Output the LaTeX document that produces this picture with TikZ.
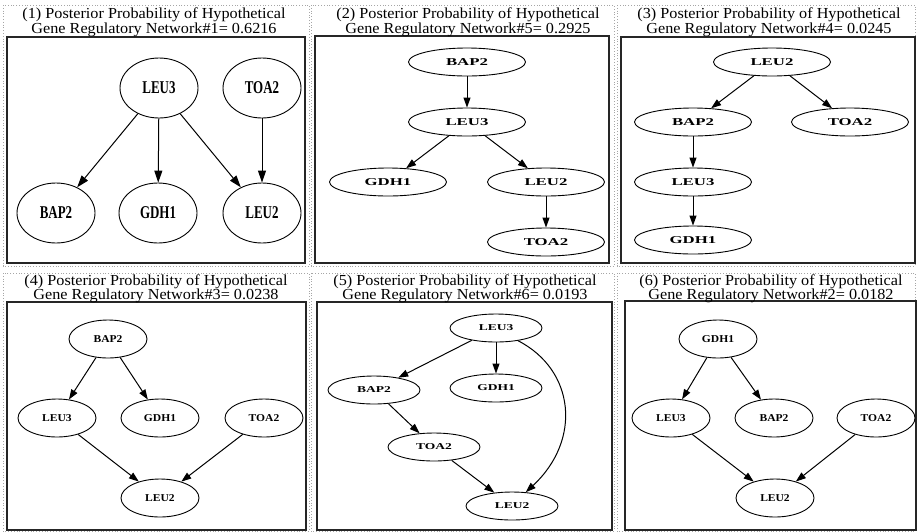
\documentclass[tikz,border=0pt]{standalone}
\usepackage{fontspec}
\setmainfont{Liberation Serif}
\newfontfamily\ttlfont{Liberation Serif}[FakeStretch=1.06]
\newfontfamily\condfont{Liberation Serif}[FakeStretch=0.72]
\newfontfamily\widefont{Liberation Serif}[FakeStretch=1.6]
\newfontfamily\midfont{Liberation Serif}[FakeStretch=1.1]
\newfontfamily\fivefont{Liberation Serif}[FakeStretch=1.5]
\usetikzlibrary{shapes.geometric,arrows.meta}
\tikzset{
  ttl/.style={anchor=base, inner sep=0pt, font=\fontsize{15.3}{14}\selectfont\ttlfont},
  frame/.style={draw=black!35, dotted, line width=0.8pt},
  pbox/.style={draw=black!85, line width=1.6pt},
  ellbase/.style={ellipse, draw, line width=0.9pt, inner sep=0pt},
  nA/.style={ellbase, minimum width=78pt, minimum height=60pt, font=\fontsize{18}{18}\selectfont\condfont\bfseries},
  nB/.style={ellbase, minimum width=117pt, minimum height=28pt, font=\fontsize{10.5}{10.5}\selectfont\widefont\bfseries},
  nC/.style={ellbase, minimum width=78pt, minimum height=38pt, font=\fontsize{10.5}{10.5}\selectfont\midfont\bfseries},
  nD/.style={ellbase, minimum width=92pt, minimum height=28pt, font=\fontsize{9}{9}\selectfont\fivefont\bfseries},
  arA/.style={line width=1pt, -{Triangle[length=12pt,width=8pt]}},
  ar/.style={line width=1pt, -{Triangle[length=10pt,width=7pt]}}
}
\begin{document}
\begin{tikzpicture}[x=1pt,y=-1pt]
\useasboundingbox (0,0) rectangle (917,531);
\fill[white] (0,0) rectangle (917,531);
% outer dotted frames
\draw[frame] (3,5) rectangle (309,266);
\draw[frame] (311,5) rectangle (614,266);
\draw[frame] (617,5) rectangle (915,266);
\draw[frame] (3,273) rectangle (309,531);
\draw[frame] (311,273) rectangle (614,531);
\draw[frame] (617,273) rectangle (915,531);
% panel boxes
\draw[pbox] (7,37) rectangle (305,263);
\draw[pbox] (315,36) rectangle (609,263);
\draw[pbox] (621,37) rectangle (915,263);
\draw[pbox] (7,302) rectangle (306,530);
\draw[pbox] (317,302) rectangle (612,530);
\draw[pbox] (625,301) rectangle (916,530);
% titles
\node[ttl] (h1a) at (154,18) {(1) Posterior Probability of Hypothetical};
\node[ttl] (h1b) at (154,33) {Gene Regulatory Network\#1= 0.6216};
\node[ttl] (h2a) at (468,18) {(2) Posterior Probability of Hypothetical};
\node[ttl] (h2b) at (468,33) {Gene Regulatory Network\#5= 0.2925};
\node[ttl] (h3a) at (769,18) {(3) Posterior Probability of Hypothetical};
\node[ttl] (h3b) at (769,33) {Gene Regulatory Network\#4= 0.0245};
\node[ttl] (h4a) at (156,285) {(4) Posterior Probability of Hypothetical};
\node[ttl] (h4b) at (156,299) {Gene Regulatory Network\#3= 0.0238};
\node[ttl] (h5a) at (465,285) {(5) Posterior Probability of Hypothetical};
\node[ttl] (h5b) at (465,299) {Gene Regulatory Network\#6= 0.0193};
\node[ttl] (h6a) at (771,285) {(6) Posterior Probability of Hypothetical};
\node[ttl] (h6b) at (771,299) {Gene Regulatory Network\#2= 0.0182};
% panel 1
\node[nA] (p1l3) at (159,88) {LEU3};
\node[nA] (p1t2) at (262,88) {TOA2};
\node[nA] (p1b2) at (56,213) {BAP2};
\node[nA] (p1g1) at (158,213) {GDH1};
\node[nA] (p1l2) at (262,213) {LEU2};
\draw[arA] (p1l3) -- (p1b2);
\draw[arA] (p1l3) -- (p1g1);
\draw[arA] (p1l3) -- (p1l2);
\draw[arA] (p1t2) -- (p1l2);
% panel 2
\node[nB] (p2b2) at (467,62) {BAP2};
\node[nB] (p2l3) at (467,122) {LEU3};
\node[nB] (p2g1) at (388,182) {GDH1};
\node[nB] (p2l2) at (546,182) {LEU2};
\node[nB] (p2t2) at (546,242) {TOA2};
\draw[ar] (p2b2) -- (p2l3);
\draw[ar] (p2l3) -- (p2g1);
\draw[ar] (p2l3) -- (p2l2);
\draw[ar] (p2l2) -- (p2t2);
% panel 3
\node[nB] (p3l2) at (772,62) {LEU2};
\node[nB] (p3b2) at (693,122) {BAP2};
\node[nB] (p3t2) at (850,122) {TOA2};
\node[nB] (p3l3) at (693,182) {LEU3};
\node[nB] (p3g1) at (693,240) {GDH1};
\draw[ar] (p3l2) -- (p3b2);
\draw[ar] (p3l2) -- (p3t2);
\draw[ar] (p3b2) -- (p3l3);
\draw[ar] (p3l3) -- (p3g1);
% panel 4
\node[nC] (p4b2) at (108,339) {BAP2};
\node[nC] (p4l3) at (57,418) {LEU3};
\node[nC] (p4g1) at (160,418) {GDH1};
\node[nC] (p4t2) at (264,418) {TOA2};
\node[nC] (p4l2) at (160,498) {LEU2};
\draw[ar] (p4b2) -- (p4l3);
\draw[ar] (p4b2) -- (p4g1);
\draw[ar] (p4l3) -- (p4l2);
\draw[ar] (p4t2) -- (p4l2);
% panel 5
\node[nD] (p5l3) at (496,328) {LEU3};
\node[nD] (p5b2) at (374,390) {BAP2};
\node[nD] (p5g1) at (496,388) {GDH1};
\node[nD] (p5t2) at (434,447) {TOA2};
\node[nD] (p5l2) at (512,506) {LEU2};
\draw[ar] (p5l3) -- (p5b2);
\draw[ar] (p5l3) -- (p5g1);
\draw[ar] (p5l3.-30) .. controls (575,370) and (582,440) .. (p5l2.45);
\draw[ar] (p5b2) -- (p5t2);
\draw[ar] (p5t2) -- (p5l2);
% panel 6
\node[nC] (p6g1) at (718,339) {GDH1};
\node[nC] (p6l3) at (671,418) {LEU3};
\node[nC] (p6b2) at (774,418) {BAP2};
\node[nC] (p6t2) at (876,418) {TOA2};
\node[nC] (p6l2) at (775,498) {LEU2};
\draw[ar] (p6g1) -- (p6l3);
\draw[ar] (p6g1) -- (p6b2);
\draw[ar] (p6l3) -- (p6l2);
\draw[ar] (p6t2) -- (p6l2);
\end{tikzpicture}
\end{document}
